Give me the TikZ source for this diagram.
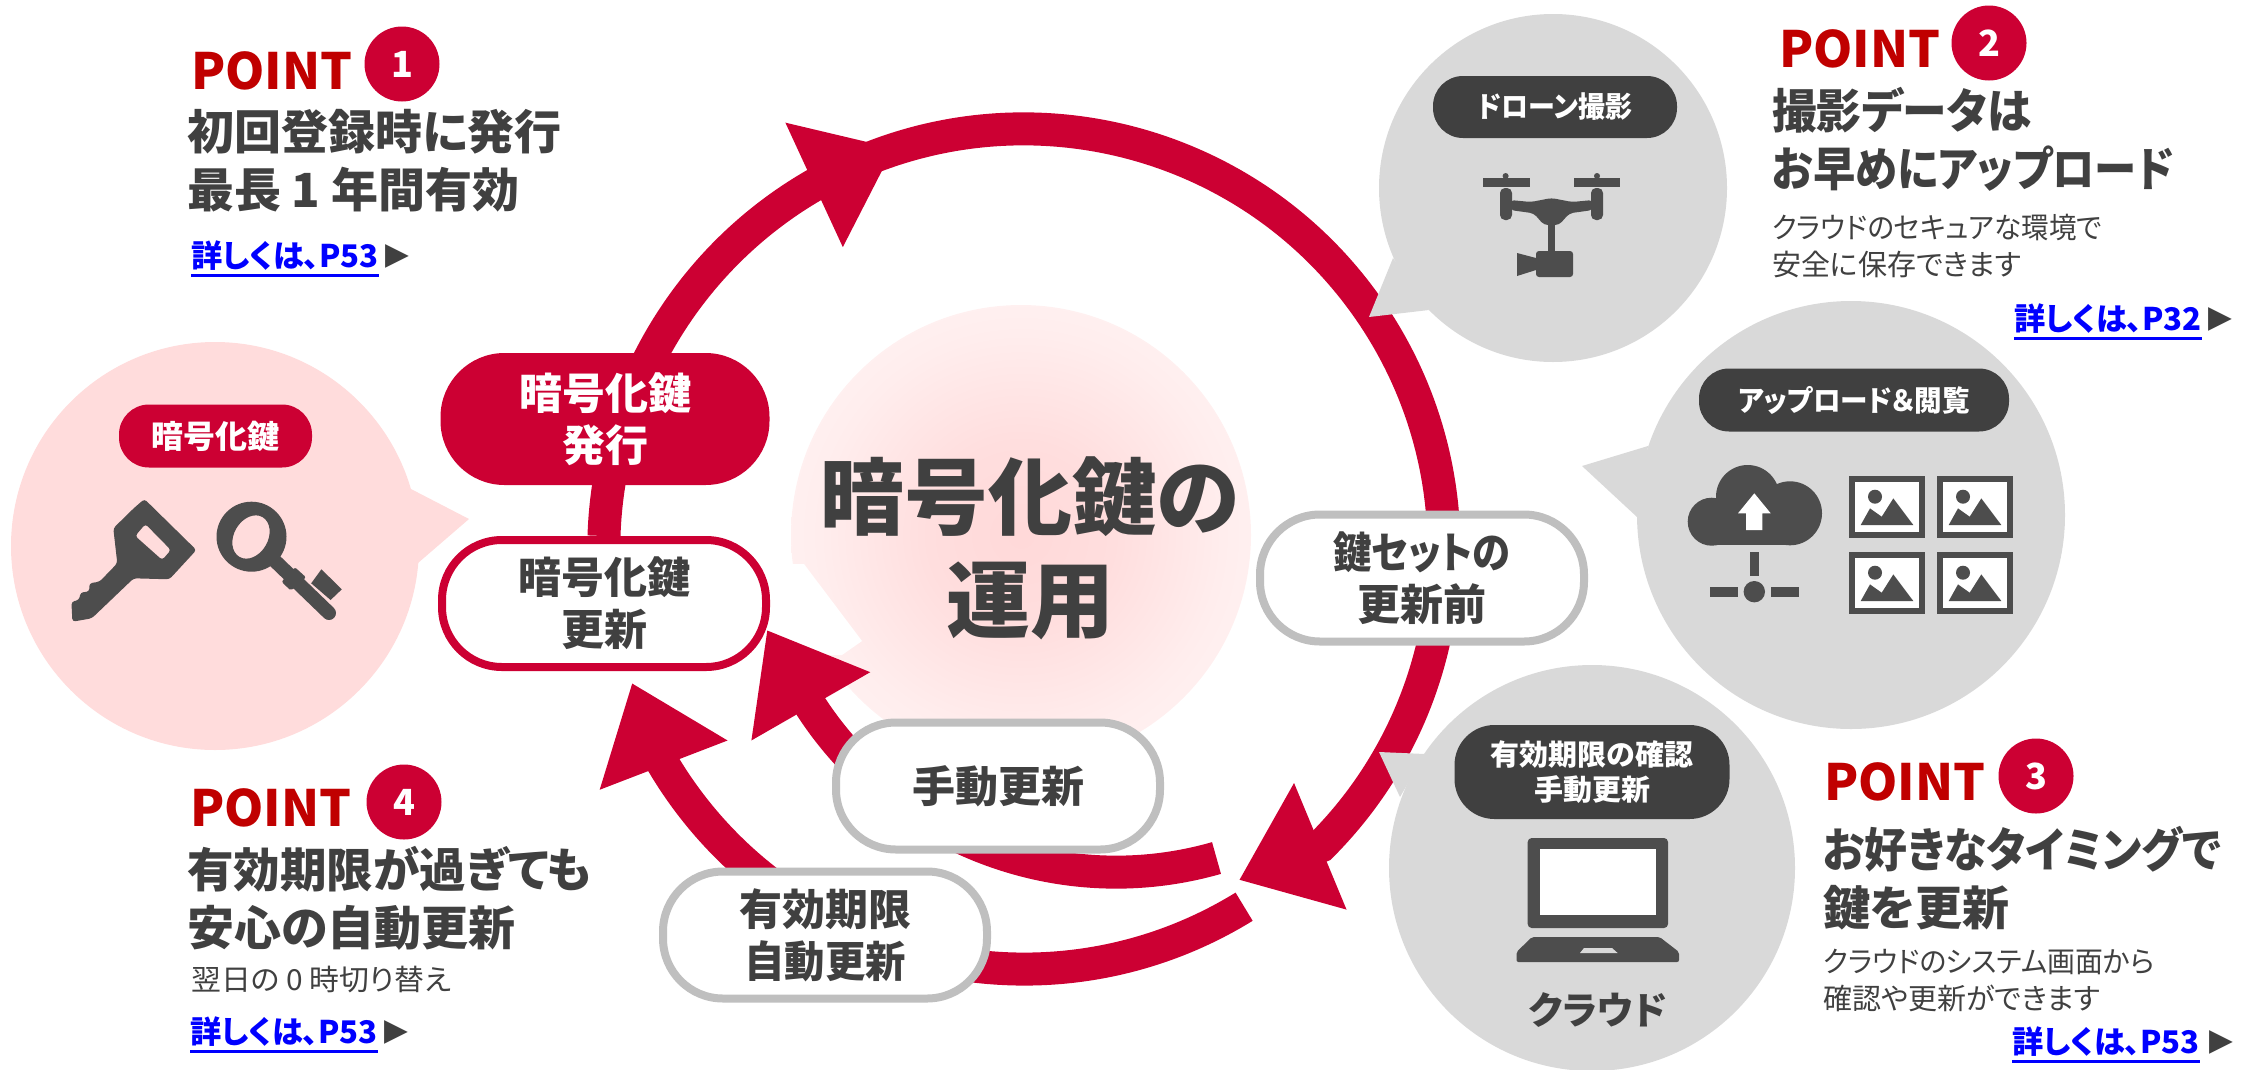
\documentclass[tikz,border=0pt]{standalone}
\usepackage{graphicx}
\usepackage{fontspec}
\setmainfont{Noto Sans CJK JP}[RawFeature=+palt]
\newfontfamily\symfont{DejaVu Sans}
\definecolor{keyred}{RGB}{204, 0, 51}
\definecolor{pointred}{RGB}{192, 0, 0}
\definecolor{textgray}{RGB}{64, 64, 64}
\definecolor{icongray}{RGB}{77, 77, 77}
\definecolor{bubblegray}{RGB}{217, 217, 217}
\definecolor{bubblepink}{RGB}{255, 220, 220}
\definecolor{framegray}{RGB}{191, 191, 191}
\definecolor{linkblue}{RGB}{0, 0, 255}
\usetikzlibrary{arrows.meta, backgrounds}
\pgfdeclareradialshading{centerglow}{\pgfpointorigin}{rgb(0bp)=(1,.85,.85); rgb(10bp)=(1,.87,.87); rgb(22bp)=(1,.93,.93); rgb(36bp)=(1,.975,.975); rgb(50bp)=(1,.985,.985)}
\newcommand{\linkline}[1]{\setbox0\hbox{#1}\rlap{\smash{\rule[-9pt]{\wd0}{2.5pt}}}\box0}
\newcommand{\narrowed}[2]{\scalebox{#1}[1]{#2}}
\tikzset{
  bubble/.style={circle, inner sep=0pt, minimum size=#1},
  pill/.style={rounded corners=30pt, fill=textgray, text=white, align=center, inner sep=0pt, font=\bfseries\fontsize{29}{35}\selectfont},
  flowbox/.style={rounded corners=60pt, align=center, inner sep=0pt, minimum width=324pt, minimum height=127pt, line width=8pt, draw=framegray, fill=white, text=textgray, font=\bfseries\fontsize{43}{52}\selectfont},
  ringline/.style={draw=keyred, line width=33pt, -{Triangle[length=88pt, width=131pt]}},
  pointword/.style={anchor=west, inner sep=0pt, text=pointred, font=\bfseries\fontsize{50}{50}\selectfont},
  pointnum/.style={circle, fill=keyred, text=white, inner sep=0pt, minimum size=75pt, font=\bfseries\fontsize{36}{36}\selectfont},
  headline/.style={anchor=west, inner sep=0pt, align=left, text=textgray, font=\bfseries\fontsize{47}{58}\selectfont},
  bodytext/.style={anchor=west, inner sep=0pt, align=left, text=textgray, font=\fontsize{29}{37}\selectfont},
  linktext/.style={anchor=west, inner sep=0pt, text=linkblue, font=\bfseries\fontsize{31.2}{31}\selectfont},
  linkmark/.style={anchor=west, inner sep=0pt, text=textgray, font=\symfont\fontsize{31}{31}\selectfont},
  picframe/.style={draw=icongray, fill=white, line width=6pt}
}

\begin{document}
\begin{tikzpicture}[x=1pt, y=-1pt]
  \useasboundingbox (0, 0) rectangle (2256, 1069);

  % Bubbles
  \node[bubble=408pt, fill=bubblepink] (keyBubble) at (215, 546) {};
  \fill[bubblepink] (411, 489) -- (469, 519) -- (418, 563) -- cycle;
  \node[bubble=348pt, fill=bubblegray] (droneBubble) at (1553, 188) {};
  \fill[bubblegray] (1393, 258) -- (1369, 317) -- (1429, 310) -- cycle;
  \node[bubble=428pt, fill=bubblegray] (uploadBubble) at (1851, 515) {};
  \fill[bubblegray] (1648, 446) -- (1582, 466) -- (1637, 517) -- cycle;
  \node[bubble=406pt, fill=bubblegray] (cloudBubble) at (1592, 868) {};
  \fill[bubblegray] (1425, 754) -- (1379, 752) -- (1400, 797) -- cycle;

  \node[pill, fill=keyred, minimum width=193pt, minimum height=63pt, font=\bfseries\fontsize{32}{35}\selectfont] (keyPill) at (215.5, 436) {暗号化鍵};
  \node[pill, minimum width=244pt, minimum height=62pt] (dronePill) at (1555, 107) {\narrowed{0.93}{ドローン撮影}};
  \node[pill, minimum width=310pt, minimum height=63pt] (uploadPill) at (1854, 400) {\narrowed{0.95}{アップロード＆閲覧}};
  \node[pill, minimum width=275pt, minimum height=94pt, rounded corners=40pt] (checkPill) at (1592, 772) {有効期限の確認\\手動更新};
  \node[anchor=center, inner sep=0pt, text=textgray, font=\bfseries\fontsize{38}{38}\selectfont] (cloudLabel) at (1598, 1010) {クラウド};

  % Flow nodes
  \node[flowbox, draw=keyred, fill=keyred, text=white, minimum width=321pt, minimum height=124pt] (issueKey) at (605, 419) {暗号化鍵\\発行};
  \node[flowbox, draw=keyred] (updateKey) at (604, 603.5) {暗号化鍵\\更新};
  \node[flowbox] (keySet) at (1422, 578) {\narrowed{0.89}{鍵セットの}\\更新前};
  \node[flowbox] (manualUpdate) at (998, 786) {手動更新};
  \node[flowbox] (autoUpdate) at (825, 935) {有効期限\\\narrowed{0.94}{自動更新}};

  % Ring
  \coordinate (baseTop) at (816, 184);
  \coordinate (tipTop) at (894, 148);
  \coordinate (baseRight) at (1321, 846);
  \coordinate (tipRight) at (1239, 880);
  \coordinate (gapInner) at (1216.5, 858);
  \coordinate (baseInner) at (811.4, 707.3);
  \coordinate (tipInner) at (767, 630);
  \coordinate (gapOuter) at (1244.1, 906.7);
  \coordinate (baseOuter) at (663.2, 764);
  \coordinate (tipOuter) at (632, 683);

  \begin{scope}[on background layer]
    \shade[shading=centerglow] (1021, 535) circle[radius=230];
    \fill[white] (804, 564) -- (862, 641) -- (842, 655) -- (780, 655) -- (780, 564) -- cycle;
    \draw[ringline] (updateKey.north) .. controls (608.6, 390) and (689.1, 256.5) .. (baseTop) -- (tipTop);
    \draw[ringline] (baseTop) .. controls (1008.6, 74.1) and (1253.6, 133.3) .. (1375.2, 318.7) .. controls (1484.3, 485.1) and (1461.7, 705.3) .. (baseRight) -- (tipRight);
    \draw[ringline] (gapInner) .. controls (1063.1, 902) and (898.8, 840.9) .. (baseInner) -- (tipInner);
    \draw[ringline] (gapOuter) .. controls (1044.5, 1029.5) and (783.2, 965.3) .. (baseOuter) -- (tipOuter);
  \end{scope}

  \node[inner sep=0pt, align=center, text=textgray, font=\bfseries\fontsize{84}{103}\selectfont] (centerTitle) at (1030, 548) {暗号化鍵の\\運用};

  % Point 1
  \node[pointword] (pointOne) at (191, 71) {POINT};
  \node[pointnum] (numOne) at (402, 64) {1};
  \node[headline] (headOne) at (187, 160.5) {初回登録時に発行\\最長 1 年間有効};
  \node[linktext] (linkOne) at (191, 256) {\linkline{詳しくは、P53}};
  \node[linkmark] (markOne) at (385, 256) {▶};

  % Point 2
  \node[pointword] (pointTwo) at (1779, 49) {POINT};
  \node[pointnum] (numTwo) at (1989, 43) {2};
  \node[headline] (headTwo) at (1772, 139) {\narrowed{0.95}{撮影データは}\\\narrowed{0.9}{お早めにアップロード}};
  \node[bodytext] (bodyTwo) at (1772, 246) {\narrowed{0.95}{クラウドのセキュアな環境で}\\安全に保存できます};
  \node[linktext] (linkTwo) at (2014, 319) {\linkline{詳しくは、P32}};
  \node[linkmark] (markTwo) at (2208, 319) {▶};

  % Point 3
  \node[pointword] (pointThree) at (1824, 782) {POINT};
  \node[pointnum] (numThree) at (2036, 776) {3};
  \node[headline] (headThree) at (1823, 878.5) {\narrowed{0.913}{お好きなタイミングで}\\鍵を更新};
  \node[bodytext] (bodyThree) at (1823, 980) {\narrowed{0.96}{クラウドのシステム画面から}\\確認や更新ができます};
  \node[linktext] (linkThree) at (2012, 1042) {\linkline{詳しくは、P53}};
  \node[linkmark] (markThree) at (2209, 1042) {▶};

  % Point 4
  \node[pointword] (pointFour) at (190, 808) {POINT};
  \node[pointnum] (numFour) at (404, 802) {4};
  \node[headline] (headFour) at (187, 898) {\narrowed{0.99}{有効期限が過ぎても}\\安心の自動更新};
  \node[bodytext] (bodyFour) at (191, 980) {\narrowed{1.03}{翌日の 0 時切り替え}};
  \node[linktext] (linkFour) at (190, 1032) {\linkline{詳しくは、P53}};
  \node[linkmark] (markFour) at (384, 1032) {▶};

  % Key icons
  \fill[icongray, even odd rule, rounded corners=3pt] (144.4, 499) -- (196.4, 550) -- (169.4, 579.3) -- (133.7, 578.3) -- (91.8, 618.3) -- (72.4, 621.7) -- (71.4, 601.7) -- (79.1, 600) -- (80.6, 592.3) -- (89.3, 591.7) -- (89.3, 583.3) -- (99.5, 581.7) -- (117.3, 563.3) -- (113.3, 528.3) -- (133.7, 508.3) -- cycle (145.4, 524) -- (170.9, 550) -- (162.2, 560) -- (135.2, 536) -- cycle;
  \fill[icongray, even odd rule] (251.5, 536.7) circle[radius=35] (251, 537) ellipse[x radius=17, y radius=23, rotate=-30];
  \draw[icongray, line width=14pt, line cap=round] (274, 560) -- (329, 613);
  \fill[icongray, rounded corners=2pt] (295, 567.3) -- (306, 577.3) -- (290.8, 590.7) -- (281.6, 581.7) -- cycle;
  \fill[icongray] (321.4, 569.3) -- (341.8, 589.3) -- (330.6, 600) -- (311.2, 583.3) -- cycle;

  % Drone icon
  \fill[icongray] (1483, 178) rectangle (1530, 187);
  \fill[icongray] (1573.5, 178) rectangle (1620, 187);
  \fill[icongray] (1505.6, 176) circle[radius=3];
  \fill[icongray] (1597, 176) circle[radius=3];
  \fill[icongray, rounded corners=5pt] (1500, 188) rectangle (1512, 220);
  \fill[icongray, rounded corners=5pt] (1591, 188) rectangle (1603, 220);
  \fill[icongray, rounded corners=4pt] (1510, 200) -- (1531, 202) -- (1551.5, 198) -- (1572, 202) -- (1593, 200) -- (1593, 210) -- (1569.4, 213.3) -- (1559, 225) -- (1544, 225) -- (1533.7, 213.3) -- (1510, 210) -- cycle;
  \fill[icongray] (1548, 224) rectangle (1555, 252);
  \fill[icongray, rounded corners=3pt] (1536, 251) rectangle (1573, 277);
  \fill[icongray] (1517, 253) -- (1536, 258) -- (1536, 270) -- (1517, 276) -- cycle;

  % Cloud icon
  \fill[icongray] (1711.7, 521.7) circle[radius=24];
  \fill[icongray] (1747.7, 496.7) circle[radius=31.7];
  \fill[icongray] (1790, 513.3) circle[radius=32];
  \fill[icongray] (1711.7, 500) rectangle (1790, 545.3);
  \fill[white] (1754.3, 493.3) -- (1770.7, 513.3) -- (1762.3, 513.3) -- (1762.3, 530) -- (1746, 530) -- (1746, 513.3) -- (1738, 513.3) -- cycle;
  \fill[icongray] (1750, 552) rectangle (1759, 576);
  \fill[icongray] (1710, 587.3) rectangle (1738.3, 596.7);
  \fill[icongray] (1770.7, 587.3) rectangle (1799, 596.7);
  \fill[icongray] (1754.3, 591.7) circle[radius=10.7];

  % Picture icons
  \foreach \picx/\picy in {1852/478.7, 1940/478.7, 1852/554.7, 1940/554.7} {
    \draw[picframe] (\picx, \picy) rectangle ++(70, 56.6);
    \fill[icongray] (\picx + 23, \picy + 18) circle[radius=7];
    \fill[icongray] (\picx + 8.7, \picy + 46.3) -- (\picx + 18, \picy + 29.7) -- (\picx + 29.7, \picy + 38) -- (\picx + 41.3, \picy + 19.7) -- (\picx + 61.3, \picy + 46.3) -- cycle;
  }

  % Laptop icon
  \fill[icongray, rounded corners=4pt] (1527.7, 838) rectangle (1668, 928);
  \fill[white] (1540, 849) rectangle (1656, 915);
  \fill[icongray, rounded corners=2pt] (1532, 937) -- (1659.6, 937) -- (1679, 952) -- (1679, 962) -- (1516.5, 962) -- (1516.5, 952) -- cycle;
  \fill[bubblegray] (1584, 948) -- (1612, 948) -- (1617.6, 953) -- (1580, 953) -- cycle;
\end{tikzpicture}
\end{document}
